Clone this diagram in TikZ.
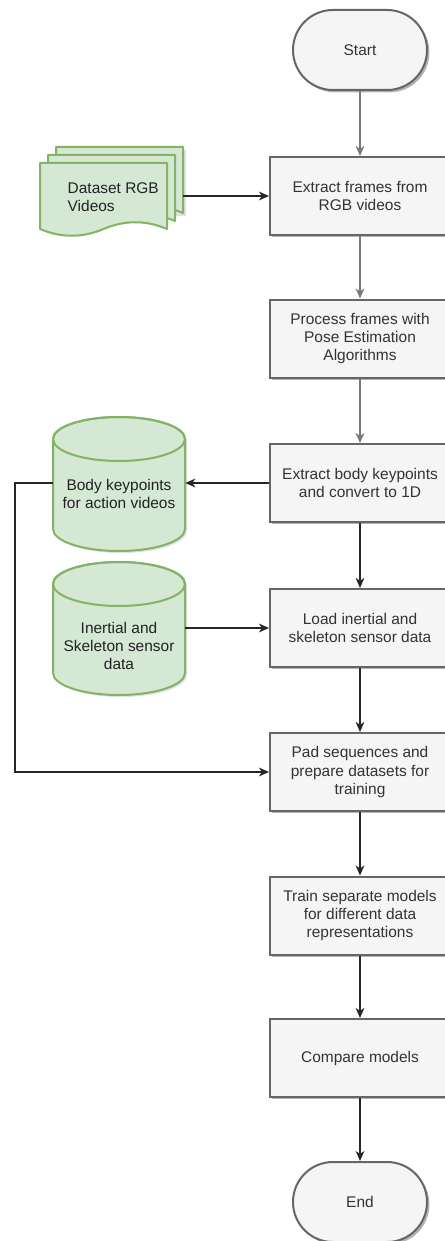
\documentclass[tikz,border=0pt]{standalone}
\usepackage{fontspec}
\setmainfont{Liberation Sans}
\usetikzlibrary{arrows.meta,shadows}
\definecolor{boxfill}{HTML}{F5F5F5}
\definecolor{boxline}{HTML}{666666}
\definecolor{greenfill}{HTML}{D5E8D4}
\definecolor{greenline}{HTML}{82B366}
\definecolor{txt}{HTML}{333333}
\definecolor{greentxt}{HTML}{222222}
\definecolor{lightarrow}{HTML}{7A7A7A}
\definecolor{darkarrow}{HTML}{262626}

% one sheet of the stacked-document symbol: left x, top y, width, y of bottom corners
\newcommand{\docsheet}[4]{%
  \path[greensheet] (#1,#2) -- ({#1+#3},#2) -- ({#1+#3},#4)
    .. controls ({#1+5*#3/6},{#4-9}) and ({#1+2*#3/3},{#4-9}) .. ({#1+#3/2},#4)
    .. controls ({#1+#3/3},{#4+9}) and ({#1+#3/6},{#4+9}) .. (#1,#4) -- cycle;}

% database cylinder: centre x, top y, bottom y
\newcommand{\dbcyl}[3]{%
  \fill[black, opacity=0.12] ({#1-64},{#2+24}) -- ({#1-64},{#3-20})
    arc[start angle=180,end angle=360,x radius=49.5pt,y radius=16.5pt]
    -- ({#1+68},{#2+24}) arc[start angle=0,end angle=180,x radius=49.5pt,y radius=16.5pt] -- cycle;
  \path[greensheet] ({#1-66},{#2+22}) -- ({#1-66},{#3-22})
    arc[start angle=180,end angle=360,x radius=49.5pt,y radius=16.5pt]
    -- ({#1+66},{#2+22}) arc[start angle=0,end angle=180,x radius=49.5pt,y radius=16.5pt] -- cycle;
  \draw[draw=greenline, line width=1.5pt] (#1,{#2+22}) ellipse[x radius=49.5pt, y radius=16.5pt];}

\begin{document}
\begin{tikzpicture}[x=0.75pt,y=-0.75pt,
  every node/.style={font=\fontsize{11.6pt}{13.6pt}\selectfont, text=txt},
  stepbox/.style={draw=boxline, fill=boxfill, line width=1.5pt,
    minimum width=135pt, minimum height=58.5pt, align=center, inner sep=0pt,
    drop shadow={shadow xshift=1.8pt, shadow yshift=-1.8pt, opacity=0.3, fill=black}},
  terminal/.style={stepbox, minimum width=100.5pt, minimum height=60pt, rounded corners=29.9pt},
  greensheet/.style={draw=greenline, fill=greenfill, line width=1.5pt, line join=round},
  holder/.style={inner sep=0pt, draw=none, fill=none},
  greenlabel/.style={align=center, text=greentxt},
  lightflow/.style={draw=lightarrow, line width=1.3pt, -{Stealth[length=7.5pt,width=6.5pt,inset=2.2pt]}},
  darkflow/.style={draw=darkarrow, line width=1.3pt, -{Stealth[length=7.5pt,width=6.5pt,inset=2.2pt]}},
]
\useasboundingbox (0,0) rectangle (444,1241);
\fill[white] (0,0) rectangle (444,1241);

% main column
\node[terminal] (start) at (360,50) {Start};
\node[stepbox] (frames) at (360,196) {Extract frames from\\RGB videos};
\node[stepbox] (pose) at (360,338.5) {Process frames with\\Pose Estimation\\Algorithms};
\node[stepbox] (keyp) at (360,483) {Extract body keypoints\\and convert to 1D};
\node[stepbox] (load) at (360,628) {Load inertial and\\skeleton sensor data};
\node[stepbox] (pad) at (360,772) {Pad sequences and\\prepare datasets for\\training};
\node[stepbox] (train) at (360,915.5) {Train separate models\\for different data\\representations};
\node[stepbox] (compare) at (360,1058) {Compare models};
\node[terminal] (end) at (360,1202) {End};

% stacked documents
\begin{scope}
  \fill[black, opacity=0.12] (59,150) rectangle (186,216);
  \docsheet{56}{147}{127}{213}
  \docsheet{48}{155}{127}{221}
  \docsheet{40}{163}{127}{229}
\end{scope}
\node[holder, minimum width=107.25pt, minimum height=72pt] (docs) at (111.5,195) {};
\node[anchor=west, align=left, text=greentxt] (doctext) at (63,197) {Dataset RGB\\Videos};

% data stores
\dbcyl{119}{417}{551}
\node[holder, minimum width=99pt, minimum height=100.5pt] (cyla) at (119,483) {};
\node[greenlabel] (cylatext) at (119,494) {Body keypoints\\for action videos};

\dbcyl{119}{562}{695}
\node[holder, minimum width=99pt, minimum height=100pt] (cylb) at (119,628) {};
\node[greenlabel] (cylbtext) at (119,646) {Inertial and\\Skeleton sensor\\data};

% connectors
\draw[lightflow] (start) -- (frames);
\draw[lightflow] (frames) -- (pose);
\draw[lightflow] (pose) -- (keyp);
\draw[darkflow] (keyp) -- (load);
\draw[darkflow] (load) -- (pad);
\draw[darkflow] (pad) -- (train);
\draw[darkflow] (train) -- (compare);
\draw[darkflow] (compare) -- (end);

\draw[darkflow] (docs.east |- frames.west) -- (frames.west);
\draw[darkflow] (keyp.west) -- (cyla.east);
\draw[darkflow] (cylb.east) -- (load.west);
\coordinate (bend) at (15,772);
\draw[darkflow] (cyla.west) -| (bend) -- (pad.west);
\end{tikzpicture}
\end{document}
